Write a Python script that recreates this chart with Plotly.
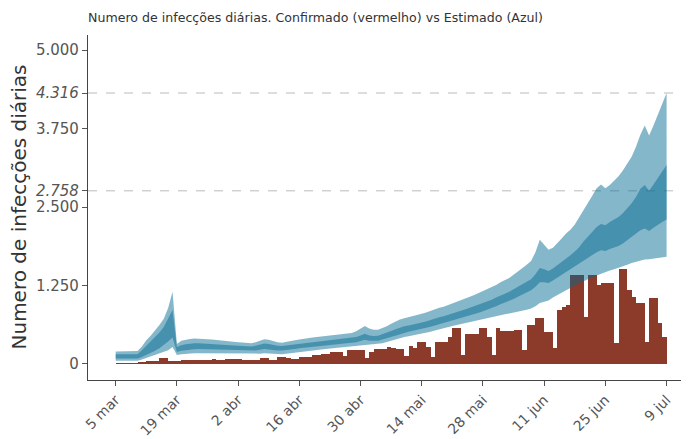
import pandas as pd
import plotly.graph_objects as go

start_date = "2020-03-05"

# Estimated infections: outer (95%) and inner (50%) bands, one value per day from 5 mar to 9 jul
hi95 = [200, 200, 200, 200, 200, 207, 280, 380, 450, 530, 620, 720, 890, 1150,
        320, 370, 390, 400, 405, 405, 400, 395, 390, 385, 378, 370, 362, 355, 348, 342,
        336, 330, 345, 370, 395, 385, 360, 345, 340, 350, 365, 380, 392, 405, 415, 422,
        428, 435, 445, 455, 462, 470, 478, 486, 495, 520, 560, 605, 565, 545, 545, 570,
        600, 640, 680, 710, 730, 745, 760, 778, 800, 820, 845, 875, 895, 910, 935, 960,
        990, 1010, 1040, 1072, 1100, 1130, 1165, 1195, 1220, 1260, 1300, 1330, 1370, 1420,
        1470, 1520, 1580, 1640, 1780, 1980, 1900, 1820, 1850, 1920, 2000, 2080, 2140, 2220,
        2330, 2440, 2560, 2680, 2800, 2860, 2800, 2850, 2920, 2990, 3080, 3180, 3300, 3460,
        3650, 3800, 3640, 3800, 3980, 4150, 4316]
hi50 = [155, 155, 155, 155, 155, 155, 220, 290, 350, 420, 500, 590, 720, 860,
        270, 300, 315, 325, 330, 330, 327, 322, 318, 314, 310, 305, 300, 295, 290, 286,
        283, 280, 292, 310, 325, 318, 300, 290, 287, 295, 305, 315, 325, 335, 343, 350,
        356, 362, 370, 378, 385, 392, 400, 408, 415, 430, 455, 480, 455, 445, 448, 470,
        495, 525, 555, 580, 600, 615, 628, 643, 660, 678, 700, 725, 745, 760, 780, 800,
        825, 845, 870, 895, 920, 945, 975, 1000, 1025, 1060, 1095, 1120, 1150, 1190,
        1230, 1270, 1310, 1350, 1430, 1530, 1510, 1480, 1520, 1570, 1620, 1680, 1730, 1790,
        1860, 1950, 2030, 2100, 2180, 2230, 2210, 2260, 2300, 2340, 2400, 2480, 2560, 2660,
        2790, 2850, 2760, 2860, 2970, 3070, 3170]
lo50 = [88, 88, 88, 88, 88, 88, 110, 140, 170, 210, 250, 300, 360, 420,
        190, 210, 220, 232, 236, 238, 236, 233, 230, 227, 224, 221, 218, 215, 213, 211,
        210, 208, 214, 226, 238, 232, 222, 215, 214, 220, 230, 240, 250, 258, 266, 272,
        278, 285, 292, 300, 307, 315, 322, 330, 337, 348, 365, 385, 372, 368, 372, 390,
        410, 435, 460, 482, 500, 515, 528, 542, 558, 575, 595, 615, 635, 650, 668, 688,
        710, 728, 750, 772, 795, 818, 842, 865, 888, 918, 950, 975, 1000, 1035,
        1070, 1105, 1140, 1175, 1230, 1300, 1300, 1290, 1330, 1375, 1420, 1470, 1510, 1555,
        1600, 1650, 1700, 1740, 1780, 1810, 1800, 1830, 1850, 1880, 1920, 1970, 2020, 2070,
        2130, 2160, 2120, 2170, 2220, 2260, 2300]
lo95 = [50, 50, 50, 50, 50, 50, 70, 95, 115, 140, 165, 190, 220, 270,
        143, 155, 163, 168, 170, 171, 170, 169, 168, 167, 166, 165, 164, 163, 162, 161,
        160, 159, 160, 165, 170, 165, 158, 154, 155, 162, 172, 182, 192, 202, 212, 220,
        226, 232, 240, 247, 253, 258, 262, 267, 272, 278, 288, 300, 302, 306, 314, 330,
        350, 372, 395, 415, 430, 443, 455, 468, 482, 497, 515, 535, 555, 570, 588, 605,
        622, 638, 655, 672, 690, 705, 720, 735, 748, 762, 778, 792, 805, 818,
        832, 848, 865, 885, 920, 970, 990, 1010, 1060, 1100, 1140, 1180, 1215, 1250,
        1285, 1320, 1350, 1380, 1410, 1440, 1465, 1490, 1510, 1530, 1555, 1580, 1610, 1630,
        1650, 1665, 1670, 1680, 1690, 1700, 1710]

# Confirmed daily cases, 5 mar to 8 jul
confirmed = [8, 10, 12, 10, 15, 27, 27, 48, 48, 50, 100, 100, 53, 55, 52, 64, 62, 58, 64, 66,
             60, 70, 75, 62, 58, 72, 80, 78, 74, 66, 64, 64, 64, 90, 90, 70, 64, 106, 106, 100,
             74, 80, 106, 106, 106, 143, 143, 159, 159, 196, 196, 196, 120, 223, 223, 223, 223,
             100, 196, 239, 239, 239, 276, 260, 239, 239, 127, 292, 250, 356, 356, 276, 117,
             345, 345, 345, 435, 568, 568, 150, 473, 473, 473, 568, 568, 435, 143, 568, 531,
             531, 531, 541, 541, 223, 621, 621, 727, 727, 515, 515, 250, 860, 900, 940, 1418,
             1418, 1418, 754, 1418, 1418, 1258, 1285, 1285, 1285, 329, 1513, 1513, 1179, 1073,
             966, 966, 356, 1046, 1046, 658, 435]

final_median = 2758
y_ticks = [0, 1250, 2500, 2758, 3750, 4316, 5000]
y_ticktext = ["0", "1.250", "2.500", "<i>2.758</i>", "3.750", "<i>4.316</i>", "5.000"]
x_ticks = ["2020-03-05", "2020-03-19", "2020-04-02", "2020-04-16", "2020-04-30",
           "2020-05-14", "2020-05-28", "2020-06-11", "2020-06-25", "2020-07-09"]
x_ticktext = ["5 mar", "19 mar", "2 abr", "16 abr", "30 abr", "14 mai", "28 mai",
              "11 jun", "25 jun", "9 jul"]

dates = pd.date_range(start_date, periods=len(hi95), freq="D")
bar_dates = dates[:len(confirmed)]

band_fill = "rgba(0,104,145,0.48)"
fig = go.Figure()
fig.add_trace(go.Bar(x=bar_dates, y=confirmed, marker=dict(color="#8c3a29", line=dict(width=0)),
                     xperiod=86400000, xperiodalignment="middle", hoverinfo="skip"))
fig.add_trace(go.Scatter(x=dates, y=lo95, mode="lines", line=dict(width=0), hoverinfo="skip"))
fig.add_trace(go.Scatter(x=dates, y=hi95, mode="lines", line=dict(width=0), fill="tonexty",
                         fillcolor=band_fill, hoverinfo="skip"))
fig.add_trace(go.Scatter(x=dates, y=lo50, mode="lines", line=dict(width=0), hoverinfo="skip"))
fig.add_trace(go.Scatter(x=dates, y=hi50, mode="lines", line=dict(width=0), fill="tonexty",
                         fillcolor=band_fill, hoverinfo="skip"))

for yv in (hi95[-1], final_median):
    fig.add_shape(type="line", xref="paper", x0=0, x1=1, yref="y", y0=yv, y1=yv,
                  line=dict(color="#bbbbbb", width=1, dash="dash"), layer="below")

# page body has an 8px margin, so the figure is sized to fill the rest of the window
W, H = 681, 431
font = "DejaVu Sans, sans-serif"
fig.update_layout(
    width=W, height=H,
    margin=dict(l=80, r=4, t=27, b=59, autoexpand=False),
    plot_bgcolor="white", paper_bgcolor="white",
    showlegend=False, bargap=0,
    font=dict(family=font, color="#555555"),
    title=dict(text="Numero de infecções diárias. Confirmado (vermelho) vs Estimado (Azul)",
               x=0, xref="paper", xanchor="left", y=1 - 10 / H, yanchor="middle",
               font=dict(size=12.6, color="#333333", family=font)),
    xaxis=dict(type="date", range=["2020-02-27 16:00", "2020-07-13 05:00"], automargin=False,
               tickvals=x_ticks, ticktext=x_ticktext, tickangle=-45,
               tickfont=dict(size=14, color="#555555"),
               showgrid=False, zeroline=False, showline=True, linecolor="#444444", linewidth=1.3,
               ticks="outside", ticklen=5, tickcolor="#555555"),
    yaxis=dict(range=[-255, 5240], tickvals=y_ticks, ticktext=y_ticktext, automargin=False,
               tickfont=dict(size=15, color="#555555"),
               showgrid=False, zeroline=False, showline=True, linecolor="#444444", linewidth=1.3,
               ticks="outside", ticklen=5, tickcolor="#555555"),
    annotations=[dict(text="Numero de infecções diárias", xref="paper", yref="paper",
                      x=(10 - 80) / 597, y=0.5, xanchor="center", yanchor="middle",
                      textangle=-90, showarrow=False,
                      font=dict(size=20, color="#333333", family=font))],
)

fig.write_html("out.html")
